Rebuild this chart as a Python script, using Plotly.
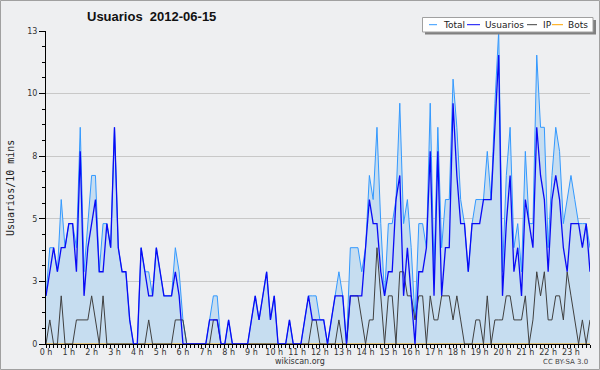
import plotly.graph_objects as go

# ---- data (10-minute slots over the day, 144 points) ----
slots = list(range(144))
hour_ticks = list(range(0, 144, 6))
hour_labels = [f"{h} h" for h in range(24)]

usuarios = [2, 3, 4, 3, 4, 4, 5, 5, 3, 8, 2, 4, 5, 6, 3, 3, 5, 4, 9, 4, 3, 3, 1, 0,
            0, 4, 3, 2, 2, 4, 3, 2, 2, 2, 3, 2, 0, 0, 0, 0, 0, 0, 0, 1, 1, 1, 0, 0,
            1, 0, 0, 0, 0, 0, 1, 2, 1, 2, 3, 1, 2, 0, 0, 0, 1, 0, 0, 0, 1, 2, 1, 1,
            1, 1, 0, 1, 2, 2, 2, 0, 2, 2, 2, 2, 4, 6, 5, 5, 3, 2, 3, 3, 6, 7, 2, 4,
            2, 0, 3, 3, 4, 8, 2, 8, 2, 4, 4, 10, 7, 5, 5, 3, 5, 5, 5, 6, 6, 6, 9, 12,
            2, 5, 7, 3, 4, 2, 6, 5, 4, 9, 7, 6, 3, 6, 7, 6, 4, 3, 5, 5, 5, 4, 5, 3]

ip = [0, 1, 0, 0, 2, 0, 0, 0, 1, 1, 1, 1, 2, 1, 0, 2, 0, 0, 0, 0, 0, 0, 0, 0,
      0, 0, 0, 1, 0, 0, 0, 0, 0, 0, 1, 1, 1, 0, 0, 0, 0, 0, 0, 0, 1, 1, 0, 0,
      0, 0, 0, 0, 0, 0, 0, 0, 0, 0, 0, 0, 0, 0, 0, 0, 0, 0, 0, 0, 0, 0, 1, 1,
      0, 0, 0, 0, 0, 1, 0, 0, 2, 2, 2, 1, 0, 1, 1, 4, 2, 0, 2, 2, 0, 3, 3, 2,
      2, 1, 2, 2, 0, 2, 1, 1, 2, 2, 2, 1, 2, 1, 0, 0, 0, 1, 1, 0, 2, 0, 1, 1,
      1, 2, 2, 1, 1, 1, 2, 0, 1, 3, 2, 3, 1, 1, 2, 2, 1, 3, 2, 1, 0, 1, 0, 1]

total = [2, 4, 4, 3, 6, 4, 5, 5, 4, 9, 3, 5, 7, 7, 3, 5, 5, 4, 9, 4, 3, 3, 1, 0,
         0, 4, 3, 3, 2, 4, 3, 2, 2, 2, 4, 3, 1, 0, 0, 0, 0, 0, 0, 1, 2, 2, 0, 0,
         1, 0, 0, 0, 0, 0, 1, 2, 1, 2, 3, 1, 2, 0, 0, 0, 1, 0, 0, 0, 1, 2, 2, 2,
         1, 1, 0, 1, 2, 3, 2, 0, 4, 4, 4, 3, 4, 7, 6, 9, 5, 2, 5, 5, 6, 10, 5, 6,
         4, 1, 5, 5, 4, 10, 3, 9, 4, 6, 6, 11, 9, 6, 5, 3, 5, 6, 6, 6, 8, 6, 10, 13,
         3, 7, 9, 4, 5, 3, 8, 5, 5, 12, 9, 9, 4, 7, 9, 8, 5, 6, 7, 6, 5, 5, 5, 4]

bots = [0] * 144

y_tickvals = [0, 2.6, 5.2, 7.8, 10.4, 13]
y_ticktext = ["0", "3", "5", "8", "10", "13"]

# ---- styles ----
BG = "#EEEFF1"
C_TOTAL = "#3399FF"
C_FILL = "#C6DDF0"
C_USU = "#0A0AF5"
C_IP = "#404040"
C_BOTS = "#FFA500"

W, H = 600, 370
L, R, T, B = 46, 10, 31, 26
PW, PH = W - L - R, H - T - B


def px(x):
    return (x - L) / PW


def py(y):
    return (H - B - y) / PH


fig = go.Figure()
fig.add_trace(go.Scatter(x=slots, y=total, mode="lines", name="Total",
                         line=dict(color=C_TOTAL, width=1),
                         fill="tozeroy", fillcolor=C_FILL, showlegend=False))
fig.add_trace(go.Scatter(x=slots, y=bots, mode="lines", name="Bots",
                         line=dict(color=C_BOTS, width=1), showlegend=False))
fig.add_trace(go.Scatter(x=slots, y=ip, mode="lines", name="IP",
                         line=dict(color=C_IP, width=1), showlegend=False))
fig.add_trace(go.Scatter(x=slots, y=usuarios, mode="lines", name="Usuarios",
                         line=dict(color=C_USU, width=1.3), showlegend=False))

tickfont = dict(family="DejaVu Sans", size=8, color="#333333")

fig.update_xaxes(range=[0, 143], tickmode="array", tickvals=hour_ticks,
                 ticktext=hour_labels, ticks="outside", ticklen=3,
                 tickcolor="#000000", showline=True, linecolor="#000000",
                 linewidth=1, showgrid=False, zeroline=False, tickfont=tickfont,
                 ticklabelstandoff=-3,
                 minor=dict(dtick=1, tick0=0, ticks="outside", ticklen=3,
                            tickcolor="#000000"))
fig.update_yaxes(range=[0, 13], tickmode="array", tickvals=y_tickvals,
                 ticktext=y_ticktext, ticks="outside", ticklen=6,
                 tickcolor="#000000", showline=True, linecolor="#000000",
                 linewidth=1, showgrid=True, gridcolor="#C8C8C8", gridwidth=1,
                 zeroline=False, tickfont=tickfont,
                 minor=dict(tickvals=[i * 0.65 for i in range(21)],
                            ticks="outside", ticklen=3, tickcolor="#000000",
                            showgrid=False))

shapes = []
# outer frame
shapes.append(dict(type="rect", xref="paper", yref="paper",
                   x0=px(0.5), x1=px(599.5), y0=py(0.5), y1=py(369.5),
                   line=dict(color="#A0A0A0", width=1), fillcolor="rgba(0,0,0,0)",
                   layer="above"))
# legend shadow and box
shapes.append(dict(type="rect", xref="paper", yref="paper",
                   x0=px(425), x1=px(596), y0=py(20), y1=py(34.5),
                   line=dict(width=0), fillcolor="#808080", layer="above"))
shapes.append(dict(type="rect", xref="paper", yref="paper",
                   x0=px(422.5), x1=px(593), y0=py(17.5), y1=py(32),
                   line=dict(color="#A0A0A0", width=1), fillcolor="#FFFFFF",
                   layer="above"))

legend_items = [("Total", C_TOTAL, 429, 437, 441),
                ("Usuarios", C_USU, 467, 480, 483),
                ("IP", C_IP, 527, 537, 541),
                ("Bots", C_BOTS, 552, 563, 566)]
annotations = []
for name, col, lx0, lx1, tx in legend_items:
    shapes.append(dict(type="line", xref="paper", yref="paper",
                       x0=px(lx0), x1=px(lx1), y0=py(24.7), y1=py(24.7),
                       line=dict(color=col, width=1), layer="above"))
    annotations.append(dict(text=name, xref="paper", yref="paper",
                            x=px(tx), y=py(25), xanchor="left", yanchor="middle",
                            showarrow=False,
                            font=dict(family="DejaVu Sans", size=9, color="#222222")))

annotations.append(dict(text="<b>Usuarios\u00a0 2012-06-15</b>", xref="paper",
                        yref="paper", x=px(85), y=py(16.5), xanchor="left",
                        yanchor="middle", showarrow=False,
                        font=dict(family="Liberation Sans", size=13, color="#111111")))
annotations.append(dict(text="Usuarios/10 mins", xref="paper", yref="paper",
                        x=px(10), y=py(188), xanchor="center", yanchor="middle",
                        textangle=-90, showarrow=False,
                        font=dict(family="DejaVu Sans Mono", size=10, color="#222222")))
annotations.append(dict(text="wikiscan.org", xref="paper", yref="paper",
                        x=px(300), y=py(361.5), xanchor="center", yanchor="middle",
                        showarrow=False,
                        font=dict(family="DejaVu Sans", size=8, color="#333333")))
annotations.append(dict(text="CC BY-SA 3.0", xref="paper", yref="paper",
                        x=px(590), y=py(362), xanchor="right", yanchor="middle",
                        showarrow=False,
                        font=dict(family="DejaVu Sans", size=7, color="#444444")))

fig.update_layout(width=W, height=H, autosize=False,
                  margin=dict(l=L, r=R, t=T, b=B, pad=0),
                  paper_bgcolor=BG, plot_bgcolor=BG,
                  showlegend=False, shapes=shapes, annotations=annotations,
                  hovermode=False)

fig.write_html("out.html",
               config={"displayModeBar": False, "staticPlot": True},
               post_script="document.body.style.margin='0';"
                           "document.body.style.background='" + BG + "';")
